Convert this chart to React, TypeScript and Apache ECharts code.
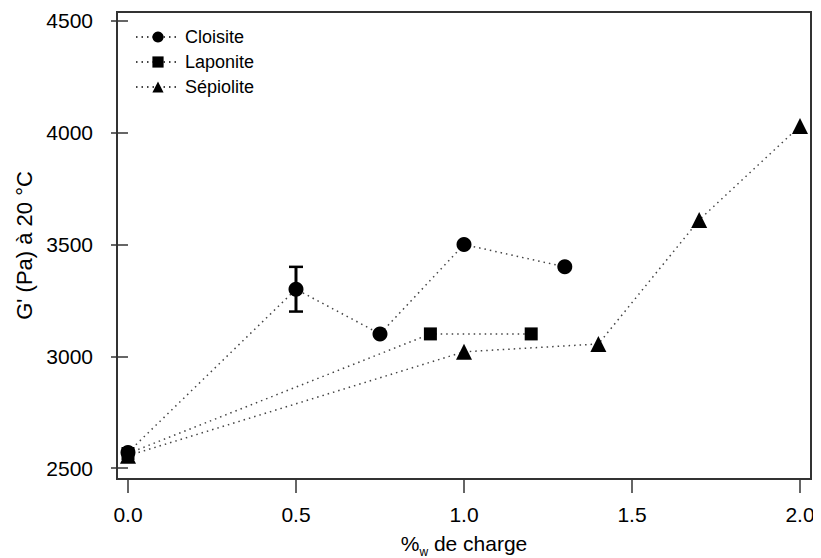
import React, { useEffect, useRef } from "react";
import * as echarts from "echarts";

const xTicks = [0, 0.5, 1.0, 1.5, 2.0];
const yTicks = [2500, 3000, 3500, 4000, 4500];

const cloisiteX = [0, 0.5, 0.75, 1.0, 1.3];
const cloisiteY = [2570, 3300, 3100, 3500, 3400];

const laponiteX = [0, 0.9, 1.2];
const laponiteY = [2565, 3100, 3100];

const sepioliteX = [0, 1.0, 1.4, 1.7, 2.0];
const sepioliteY = [2555, 3020, 3055, 3610, 4030];

// error bar on Cloisite at 0.5 : [x, low, high]
const errorBars = [[0.5, 3200, 3400]];

const FONT = "Liberation Sans, Arial, sans-serif";

export default function App() {
  const ref = useRef<HTMLDivElement>(null);
  useEffect(() => {
    if (!ref.current) return;
    const chart = echarts.init(ref.current, undefined, { renderer: "svg" });
    const lineStyle = { color: "#444", width: 1.5, type: [1.5, 4] as any };
    const pair = (xs: number[], ys: number[]) => xs.map((x, i) => [x, ys[i]]);
    chart.setOption({
      animation: false,
      backgroundColor: "#fff",
      textStyle: { fontFamily: FONT, color: "#000" },
      grid: {
        left: 109,
        top: 4,
        width: 694,
        height: 467,
        show: true,
        borderColor: "#333",
        borderWidth: 2,
        containLabel: false,
        outerBoundsMode: "none",
      },
      legend: {
        left: 122,
        top: 15,
        orient: "vertical",
        itemWidth: 44,
        itemHeight: 14,
        itemGap: 7,
        textStyle: { fontFamily: FONT, fontSize: 18, color: "#000" },
        data: ["Cloisite", "Laponite", "Sépiolite"],
      },
      xAxis: {
        type: "value",
        min: -0.0327,
        max: 2.0327,
        axisLine: { show: false },
        axisTick: {
          show: true,
          length: 14,
          lineStyle: { color: "#333", width: 1.5 },
          customValues: xTicks,
        },
        axisLabel: {
          customValues: xTicks,
          formatter: (v: number) => v.toFixed(1),
          fontSize: 21,
          color: "#000",
          margin: 25,
        },
        splitLine: { show: false },
        name: "%{w|w} de charge",
        nameLocation: "middle",
        nameGap: 49,
        nameTextStyle: {
          fontSize: 21,
          color: "#000",
          rich: {
            w: { fontSize: 12, lineHeight: 12, padding: [16, 0, 0, 0], color: "#000" },
          },
        },
      },
      yAxis: {
        type: "value",
        min: 2451,
        max: 4540,
        axisLine: { show: false },
        axisTick: {
          show: true,
          length: 17,
          lineStyle: { color: "#333", width: 1.5 },
          customValues: yTicks,
        },
        axisLabel: {
          customValues: yTicks,
          formatter: (v: number) => String(v),
          fontSize: 21,
          color: "#000",
          margin: 24,
        },
        splitLine: { show: false },
        name: "G' (Pa) à 20 °C",
        nameLocation: "middle",
        nameGap: 74,
        nameTextStyle: { fontSize: 22, color: "#000" },
      },
      series: [
        {
          name: "Cloisite",
          type: "line",
          data: pair(cloisiteX, cloisiteY),
          symbol: "circle",
          symbolSize: 15,
          itemStyle: { color: "#000" },
          lineStyle,
          z: 3,
        },
        {
          name: "Laponite",
          type: "line",
          data: pair(laponiteX, laponiteY),
          symbol: "rect",
          symbolSize: 13,
          itemStyle: { color: "#000" },
          lineStyle,
          z: 3,
        },
        {
          name: "Sépiolite",
          type: "line",
          data: pair(sepioliteX, sepioliteY),
          symbol: "triangle",
          symbolSize: 16,
          itemStyle: { color: "#000" },
          lineStyle,
          z: 3,
        },
        {
          name: "err",
          type: "custom",
          data: errorBars,
          z: 4,
          renderItem: (params: any, api: any) => {
            const x = api.value(0);
            const lo = api.coord([x, api.value(1)]);
            const hi = api.coord([x, api.value(2)]);
            const hw = 7;
            const st = { stroke: "#000", lineWidth: 2.5 };
            return {
              type: "group",
              children: [
                { type: "line", shape: { x1: lo[0], y1: lo[1], x2: hi[0], y2: hi[1] }, style: { ...st, lineWidth: 3 } },
                { type: "line", shape: { x1: lo[0] - hw, y1: lo[1], x2: lo[0] + hw, y2: lo[1] }, style: st },
                { type: "line", shape: { x1: hi[0] - hw, y1: hi[1], x2: hi[0] + hw, y2: hi[1] }, style: st },
              ],
            };
          },
        },
      ],
    });
    return () => chart.dispose();
  }, []);
  return <div ref={ref} style={{ width: 813, height: 550 }} />;
}
